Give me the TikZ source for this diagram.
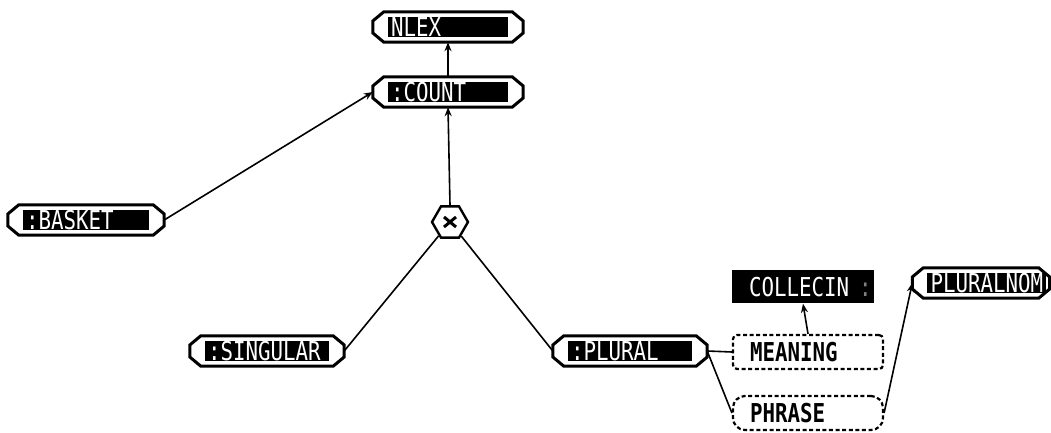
\documentclass[tikz,border=0pt]{standalone}
\usepackage{fontspec}
\usetikzlibrary{arrows.meta,shapes.geometric,calc}
\newfontfamily\lispfont{DejaVu Sans Mono}[FakeStretch=0.8]

\tikzset{
  frame/.style={line width=3pt, line join=miter},
  lispbox/.style={rectangle, minimum height=30pt, inner sep=0pt},
  lisptext/.style={font=\lispfont\fontsize{26}{26}\selectfont, inner sep=0pt,
    text height=19pt, text depth=0pt},
  boldtext/.style={lisptext, font=\lispfont\bfseries\fontsize{26}{26}\selectfont},
  dashbox/.style={draw, line width=2.2pt, dash pattern=on 4pt off 2.6pt,
    minimum height=34pt, inner sep=0pt},
  link/.style={line width=1.6pt},
  arrow/.style={link, -{Stealth[length=9pt,width=7pt]}},
}

% octagonal frame with a black label bar inside; optional arg = right inset of the bar
\newcommand{\lispnode}[5][15]{%
  \node[lispbox, minimum width=#4pt] (#2) at (#3) {};
  \draw[frame] ($(#2.west)+(0,6pt)$) -- ($(#2.north west)+(11pt,0)$)
    -- ($(#2.north east)+(-11pt,0)$) -- ($(#2.east)+(0,6pt)$)
    -- ($(#2.east)+(0,-6pt)$) -- ($(#2.south east)+(-11pt,0)$)
    -- ($(#2.south west)+(11pt,0)$) -- ($(#2.west)+(0,-6pt)$) -- cycle;
  \fill ($(#2.south west)+(15pt,5pt)$) rectangle ($(#2.north east)+(-#1pt,-5pt)$);
  \node[lisptext, text=white, anchor=west] (#2-label) at ($(#2.west)+(18pt,0)$) {#5};
}

\begin{document}
\begin{tikzpicture}[x=1pt,y=1pt]
\useasboundingbox (0,0) rectangle (1051,433);

\lispnode{nlex}{448,406}{150}{NLEX}
\lispnode{count}{448,341}{150}{:COUNT}
\lispnode{basket}{86,213}{156}{:BASKET}
\lispnode{singular}{267,82}{154}{:SINGULAR}
\lispnode{plural}{630,82}{154}{:PLURAL}
\lispnode[4]{pluralnom}{981,150}{137}{PLURALNOM}

% product node
\node[regular polygon, regular polygon sides=6, minimum size=36pt, draw,
  line width=2.4pt, inner sep=0pt,
  path picture={
    \draw[line width=3pt]
      ($(path picture bounding box.center)+(-6pt,-5pt)$) -- ($(path picture bounding box.center)+(6pt,5pt)$)
      ($(path picture bounding box.center)+(-6pt,5pt)$) -- ($(path picture bounding box.center)+(6pt,-5pt)$);
  }] (times) at (450,211) {};

% semantic features
\node[fill=black, minimum width=142pt, minimum height=33pt, inner sep=0pt] (collecin) at (803,146) {};
\node[lisptext, text=white, anchor=west] (collecin-label) at ($(collecin.west)+(17pt,0)$)
  {COLLECIN\hspace{10pt}\textcolor{gray}{:}};
\node[dashbox, rounded corners=4pt, minimum width=150pt] (meaning) at (808,81) {};
\node[boldtext, anchor=west] (meaning-label) at ($(meaning.west)+(18pt,0)$) {MEANING};
\node[dashbox, rounded corners=12pt, minimum width=150pt] (phrase) at (808,20) {};
\node[boldtext, anchor=west] (phrase-label) at ($(phrase.west)+(18pt,0)$) {PHRASE};

% connectors
\draw[arrow] (count.north) -- (nlex.south);
\draw[arrow] (times.north) -- (count.south);
\draw[arrow] (basket.east) -- (count.west);
\draw[link] (singular.east) -- (times);
\draw[link] (plural.west) -- (times);
\draw[link] (plural.east) -- (meaning.west);
\draw[link] (plural.east) -- (phrase.west);
\draw[arrow] (meaning.north) -- (collecin.south);
\draw[arrow] (phrase.east) -- (pluralnom.west);
\end{tikzpicture}
\end{document}
